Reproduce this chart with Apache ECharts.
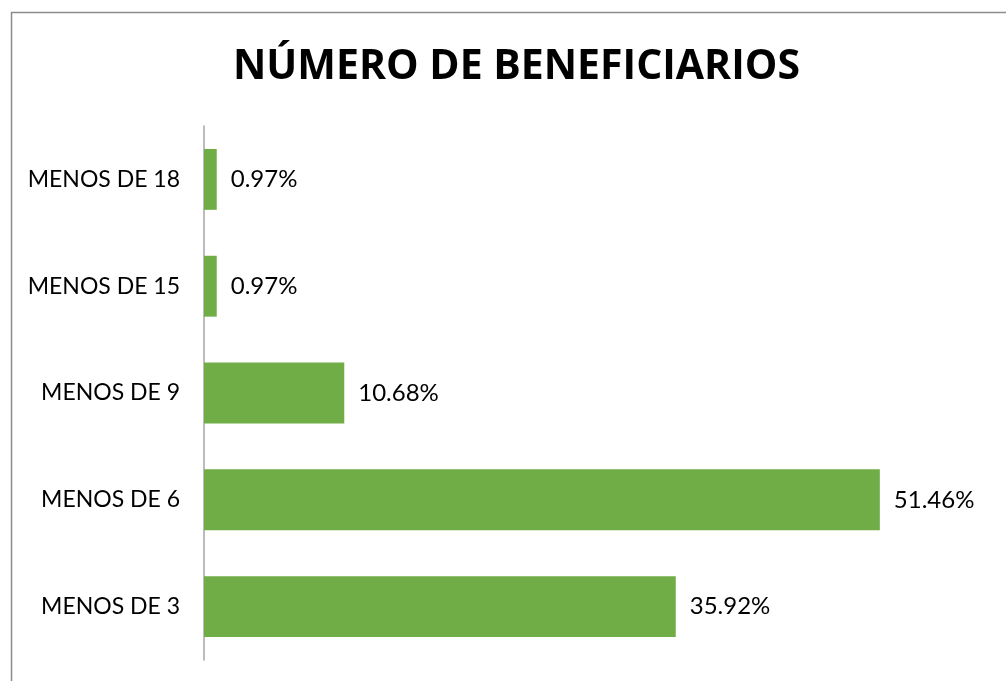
<!DOCTYPE html>
<html>
<head>
<meta charset="utf-8">
<style>
  html, body { margin: 0; padding: 0; background: #ffffff; }
  #chart { width: 1006px; height: 681px; }
</style>
<script src="https://cdn.jsdelivr.net/npm/echarts@6/dist/echarts.min.js"></script>
</head>
<body>
<div id="chart"></div>
<script>
// Age groups, bottom to top
const categories = ['MENOS DE 3', 'MENOS DE 6', 'MENOS DE 9', 'MENOS DE 15', 'MENOS DE 18'];
// Share of beneficiaries in each group (%)
const shares = [35.92, 51.46, 10.68, 0.97, 0.97];

const chart = echarts.init(document.getElementById('chart'), null, { renderer: 'canvas' });

chart.setOption({
  animation: false,
  backgroundColor: '#ffffff',
  graphic: [{
    type: 'rect',
    shape: { x: 11.5, y: 12.5, width: 1010, height: 700 },
    style: { fill: 'none', stroke: '#8c8c8c', lineWidth: 1.5 },
    silent: true,
    z: -1
  }],
  title: {
    text: 'NÚMERO DE BENEFICIARIOS',
    left: 228,
    top: 42,
    textStyle: {
      fontFamily: 'Open Sans, Liberation Sans, sans-serif',
      fontWeight: 'bold',
      fontSize: 41,
      color: '#000000'
    }
  },
  grid: { left: 204, right: 14, top: 126, bottom: 21, containLabel: false },
  xAxis: {
    type: 'value',
    min: 0,
    max: 60,
    show: false
  },
  yAxis: {
    type: 'category',
    data: categories,
    axisLine: { show: true, lineStyle: { color: '#a6a6a6', width: 1.5 } },
    axisTick: { show: false },
    axisLabel: {
      margin: 24,
      fontFamily: 'Lato, Open Sans, sans-serif',
      fontSize: 23,
      color: '#000000'
    },
    splitLine: { show: false }
  },
  series: [{
    type: 'bar',
    data: shares,
    barCategoryGap: '43%',
    itemStyle: { color: '#70ad47' },
    label: {
      show: true,
      position: 'right',
      distance: 14,
      formatter: p => p.value.toFixed(2) + '%',
      fontFamily: 'Lato, Open Sans, sans-serif',
      fontSize: 24,
      color: '#000000'
    }
  }]
});
</script>
</body>
</html>
